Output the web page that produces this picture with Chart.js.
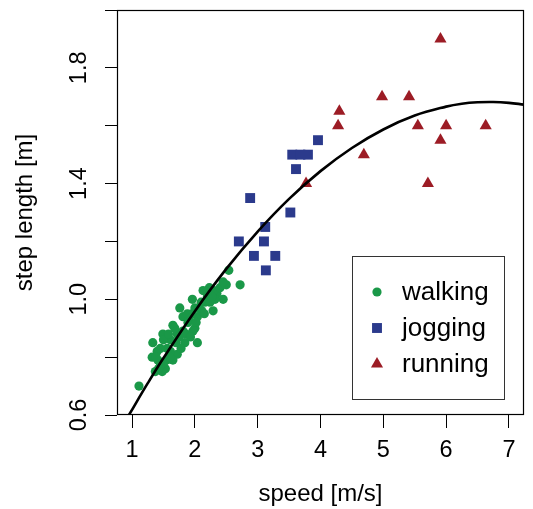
<!DOCTYPE html>
<html>
<head>
<meta charset="utf-8">
<script src="https://cdn.jsdelivr.net/npm/chart.js@4/dist/chart.umd.min.js"></script>
<style>
  html, body { margin: 0; padding: 0; background: #ffffff; }
  #wrap { width: 533px; height: 509px; position: relative; }
</style>
</head>
<body>
<div id="wrap"><canvas id="c"></canvas></div>
<script>
// ---------- data ----------
const seriesNames = ['walking', 'jogging', 'running'];

const walkX = [1.11,2.72,2.54,2.45,2.50,2.23,2.13,1.96,1.76,2.04,1.84,1.33,1.32,1.49,1.65,1.37,1.53,1.41,1.56,1.72,
               2.24,2.29,2.04,1.97,1.81,1.61,1.45,1.65,1.48,1.81,1.89,2.16,2.35,2.11,1.72,1.61,1.40,
               1.55,1.60,1.70,1.75,1.90,1.95,2.00,2.07,2.10,2.20,2.30,2.40,1.50,1.45,1.68,1.86,1.93,2.00,
               1.78,1.50,1.58,2.15,2.32,2.45,1.42,1.38,2.02,1.88,2.27];
const walkY = [0.70,1.05,1.10,1.00,1.05,1.04,1.03,1.00,0.97,0.85,0.85,0.85,0.80,0.88,0.91,0.75,0.76,0.79,0.83,0.81,
               0.99,0.96,0.94,0.89,0.89,0.86,0.83,0.79,0.75,0.94,0.92,0.99,1.02,0.96,0.88,0.82,0.82,
               0.79,0.80,0.85,0.87,0.93,0.95,0.97,0.97,0.99,1.01,1.03,1.04,0.78,0.77,0.90,0.88,0.87,0.90,
               0.83,0.86,0.88,0.95,1.00,1.06,0.76,0.80,0.92,0.95,1.01];

const jogX = [3.96,3.55,3.68,3.80,3.61,2.88,3.52,3.12,2.70,3.10,2.94,3.28,3.13];
const jogY = [1.55,1.50,1.50,1.50,1.45,1.35,1.30,1.25,1.20,1.20,1.15,1.15,1.10];

const runX = [5.91,4.98,5.41,4.30,4.28,5.55,6.00,6.63,5.91,4.69,3.77,5.71];
const runY = [1.90,1.70,1.70,1.65,1.60,1.60,1.60,1.60,1.55,1.50,1.40,1.40];

// fitted curve
const curveX = [0.95,1.25,1.5,2.0,2.5,3.0,3.5,4.0,4.5,5.0,5.5,6.0,6.25,6.5,6.75,7.0,7.24];
const curveY = [0.600,0.710,0.797,0.959,1.105,1.234,1.347,1.443,1.523,1.587,1.635,1.666,1.676,1.681,1.682,1.679,1.673];

// tick values and labels
const xTicks = [1,2,3,4,5,6,7];
const yTicks = [0.6,0.8,1.0,1.2,1.4,1.6,1.8,2.0];
const yLabelled = ['0.6','1.0','1.4','1.8'];

const xTitle = 'speed [m/s]';
const yTitle = 'step length [m]';

// ---------- styling ----------
const FONT = "'Liberation Sans', Arial, Helvetica, sans-serif";
const colors = ['#1a9848', '#2b3a8c', '#9c1c25'];
const styles = ['circle', 'rect', 'triangle'];
const radii = [4.6, 7, 7];

const zip = (xs, ys) => xs.map((x, i) => ({x: x, y: ys[i]}));

const boxPlugin = {
  id: 'rbox',
  afterDraw(chart) {
    const ctx = chart.ctx, a = chart.chartArea;
    ctx.save();
    ctx.strokeStyle = '#000';
    ctx.lineWidth = 1.2;
    ctx.strokeRect(Math.round(a.left) + 0.5, Math.round(a.top) + 0.5,
                   Math.round(a.right - a.left) - 1, Math.round(a.bottom - a.top) - 1);
    ctx.restore();
  }
};

function drawMark(ctx, style, x, y, r) {
  ctx.beginPath();
  if (style === 'circle') {
    ctx.arc(x, y, r, 0, Math.PI * 2);
  } else if (style === 'rect') {
    const s = Math.SQRT1_2 * r;
    ctx.rect(x - s, y - s, 2 * s, 2 * s);
  } else {
    ctx.moveTo(x, y - r);
    ctx.lineTo(x + r * Math.sin(2 * Math.PI / 3), y + r / 2);
    ctx.lineTo(x - r * Math.sin(2 * Math.PI / 3), y + r / 2);
    ctx.closePath();
  }
  ctx.fill();
}

const legendPlugin = {
  id: 'rlegend',
  afterDraw(chart) {
    const ctx = chart.ctx, a = chart.chartArea;
    const bx = a.right - 172, by = a.top + 246, bw = 152, bh = 143;
    ctx.save();
    ctx.strokeStyle = '#333';
    ctx.lineWidth = 1;
    ctx.strokeRect(Math.round(bx) + 0.5, Math.round(by) + 0.5, bw, bh);
    ctx.font = '26px ' + FONT;
    ctx.textBaseline = 'middle';
    ctx.textAlign = 'left';
    const sets = chart.data.datasets.filter(d => d.isGroup);
    sets.forEach((d, i) => {
      const yy = by + 36 + i * 36;
      ctx.fillStyle = d.backgroundColor;
      drawMark(ctx, d.pointStyle, bx + 25, yy, d.pointRadius);
      ctx.fillStyle = '#000';
      ctx.fillText(d.label, bx + 50, yy + 1);
    });
    ctx.restore();
  }
};

const groupSets = [zip(walkX, walkY), zip(jogX, jogY), zip(runX, runY)].map((pts, i) => ({
  type: 'scatter',
  label: seriesNames[i],
  isGroup: true,
  data: pts,
  pointStyle: styles[i],
  pointRadius: radii[i],
  pointHoverRadius: radii[i],
  backgroundColor: colors[i],
  borderColor: colors[i],
  borderWidth: 0,
  order: i + 1
}));

new Chart(document.getElementById('c'), {
  type: 'scatter',
  data: {
    datasets: [{
      type: 'line',
      label: 'fit',
      data: zip(curveX, curveY),
      borderColor: '#000',
      borderWidth: 2.6,
      pointRadius: 0,
      fill: false,
      tension: 0.4,
      order: 0
    }].concat(groupSets)
  },
  options: {
    responsive: true,
    maintainAspectRatio: false,
    animation: false,
    layout: { padding: { top: 10, right: 9, left: 0, bottom: 0 } },
    plugins: { legend: { display: false }, tooltip: { enabled: false } },
    scales: {
      x: {
        type: 'linear',
        min: 0.76, max: 7.24,
        afterBuildTicks: s => { s.ticks = xTicks.map(v => ({value: v})); },
        afterFit: s => { s.height = 94; s.paddingLeft = 0; s.paddingRight = 0; },
        border: { display: false },
        grid: { display: true, drawOnChartArea: false, drawTicks: true, tickLength: 13,
                tickColor: '#000', tickWidth: 1 },
        ticks: { color: '#000', padding: 8, font: { family: FONT, size: 23.5 },
                 autoSkip: false, maxRotation: 0, callback: v => String(v) },
        title: { display: true, text: xTitle, color: '#000',
                 font: { family: FONT, size: 24 }, padding: { top: 0, bottom: 0 } }
      },
      y: {
        type: 'linear',
        min: 0.6, max: 2.0,
        afterBuildTicks: s => { s.ticks = yTicks.map(v => ({value: v})); },
        afterFit: s => { s.width = 117; s.paddingTop = 0; s.paddingBottom = 0; },
        border: { display: false },
        grid: { display: true, drawOnChartArea: false, drawTicks: true, tickLength: 12,
                tickColor: '#000', tickWidth: 1 },
        ticks: { color: '#000', padding: 9, font: { family: FONT, size: 23.5 },
                 autoSkip: false, minRotation: 90, maxRotation: 90, crossAlign: 'center',
                 callback: v => { const t = v.toFixed(1); return yLabelled.includes(t) ? t : ''; } },
        title: { display: true, text: yTitle, color: '#000',
                 font: { family: FONT, size: 24 }, padding: { top: 11, bottom: 0 } }
      }
    }
  },
  plugins: [boxPlugin, legendPlugin]
});
</script>
</body>
</html>
